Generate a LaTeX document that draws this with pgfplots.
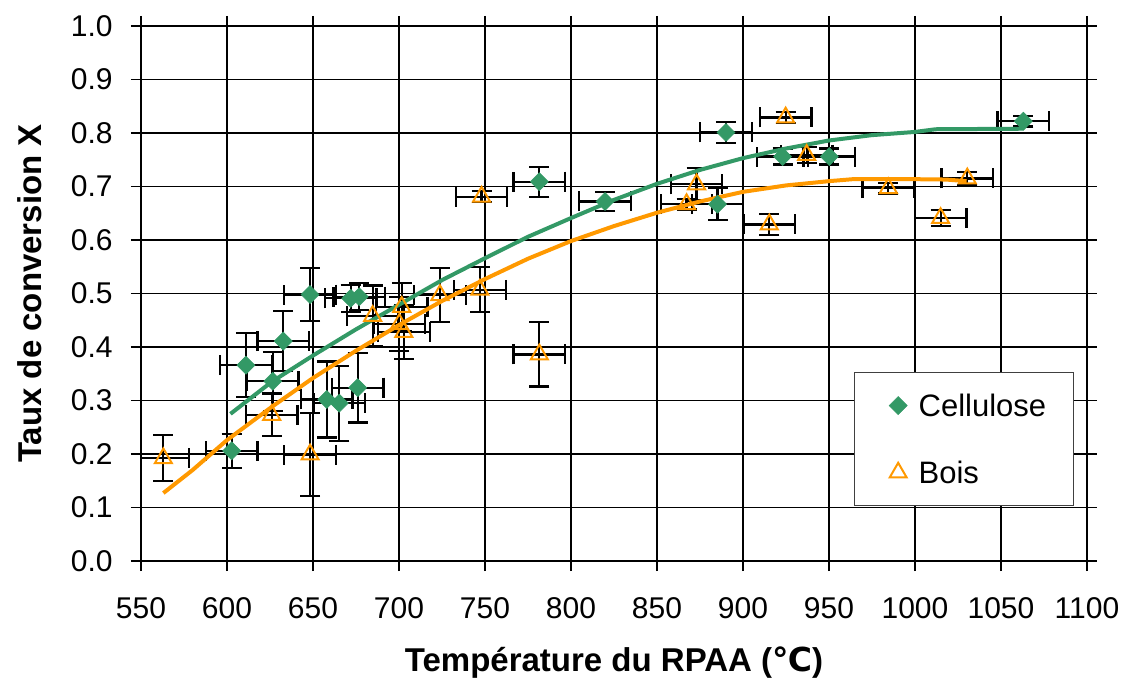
\documentclass[border=0pt]{standalone}
\usepackage{fontspec}
\setmainfont{Liberation Sans}
\newfontfamily\dejavu{DejaVu Sans}
\usepackage{pgfplots}
\usepackage{pgfplotstable}
\pgfplotsset{compat=1.18}
\definecolor{cgreen}{HTML}{339966}
\definecolor{corange}{HTML}{FF9900}

\pgfplotstableread{
x y ex ey
602.7 0.206 15 0.032
611.0 0.366 15 0.060
626.6 0.336 15 0.055
632.7 0.411 15 0.056
648.3 0.498 15 0.050
658.0 0.302 15 0.071
665.3 0.295 15 0.070
671.9 0.491 15 0.025
676.9 0.494 15 0.025
676.0 0.324 15 0.065
781.6 0.709 15 0.028
819.8 0.672 15 0.018
885.2 0.667 15 0.030
890.1 0.801 15 0.019
923.0 0.756 15 0.015
950.2 0.756 15 0.015
1063.0 0.822 15 0.010
}\cellulose

\pgfplotstableread{
x y ex ey
563.0 0.192 15 0.043
626.0 0.273 15 0.040
648.3 0.199 15 0.077
684.7 0.458 15 0.057
701.6 0.475 15 0.045
700.2 0.443 15 0.050
702.8 0.428 15 0.050
723.8 0.497 15 0.050
747.0 0.507 15 0.042
748.0 0.681 15 0.010
781.6 0.386 15 0.060
867.2 0.667 15 0.010
873.0 0.704 15 0.030
915.3 0.629 15 0.020
924.8 0.829 15 0.010
937.0 0.759 15 0.015
984.5 0.697 15 0.010
1014.9 0.641 15 0.015
1030.4 0.715 15 0.012
}\bois

\pgfplotstableread{
x y
602 0.275
626 0.335
650 0.384
675 0.433
700 0.479
725 0.525
750 0.566
775 0.606
800 0.641
825 0.675
850 0.705
875 0.731
900 0.753
925 0.771
950 0.786
975 0.796
1000 0.802
1012 0.807
1063 0.808
}\cellfit

\pgfplotstableread{
x y
563 0.127
580 0.170
600 0.226
626 0.288
650 0.342
675 0.393
700 0.441
725 0.486
750 0.527
775 0.565
800 0.598
825 0.626
850 0.651
875 0.672
900 0.690
925 0.702
950 0.710
965 0.714
991 0.714
1018 0.713
1030 0.710
}\boisfit

\begin{document}
\begin{tikzpicture}
\begin{axis}[
  scale only axis,
  width=473pt, height=267.5pt,
  xmin=550, xmax=1100, ymin=0, ymax=1,
  xtick={550,600,650,700,750,800,850,900,950,1000,1050,1100},
  ytick={0,0.1,0.2,0.3,0.4,0.5,0.6,0.7,0.8,0.9,1.0},
  /pgf/number format/assume math mode=true,
  /pgf/number format/1000 sep={},
  yticklabel style={/pgf/number format/fixed, /pgf/number format/fixed zerofill, /pgf/number format/precision=1, anchor=east, inner sep=0pt, xshift=-9pt},
  xticklabel style={anchor=north, inner sep=0pt, yshift=-13pt},
  ticklabel style={font=\fontsize{15}{18}\selectfont},
  grid=major,
  grid style={black, line width=0.6pt},
  axis line style={black, line width=0.7pt},
  tick align=outside, major tick length=5pt,
  tick style={black, line width=0.6pt},
  xlabel={\textbf{Température du RPAA ({\dejavu\bfseries ℃})}},
  ylabel={\textbf{Taux de conversion X}},
  label style={font=\fontsize{16.5}{20}\selectfont},
  xlabel style={at={(axis description cs:0.5,-0.19)}, anchor=center},
  ylabel style={at={(axis description cs:-0.1173,0.5)}, anchor=center},
  legend style={at={(axis description cs:0.7537,0.3533)}, anchor=north west,
    draw=black!75, line width=0.6pt, fill=white,
    font=\fontsize{15.5}{18}\selectfont,
    inner xsep=13.5pt, inner ysep=11pt, row sep=22.5pt, column sep=5.75pt,
    nodes={inner sep=0pt, text height=11pt, text depth=0pt}},
  legend cell align=left,
  legend image code/.code={\path (-8pt,0pt); \draw[#1, line width=1pt] plot coordinates {(0pt,0pt)};},
  error bars/error bar style={black, line width=1.1pt},
  error bars/error mark options={rotate=90, black, line width=1.1pt, mark size=5pt},
]
\addplot[only marks, mark=diamond*, mark size=4.5pt, color=cgreen,
  mark options={fill=cgreen, draw=cgreen, xscale=1.33, line width=0.3pt},
  error bars/.cd, x dir=both, x explicit, y dir=both, y explicit]
  table[x=x, y=y, x error=ex, y error=ey] {\cellulose};
\addlegendentry{Cellulose}
\addplot[only marks, mark=triangle, mark size=4.9pt, color=corange,
  mark options={draw=corange, fill=none, line width=1pt},
  error bars/.cd, x dir=both, x explicit, y dir=both, y explicit]
  table[x=x, y=y, x error=ex, y error=ey] {\bois};
\addlegendentry{Bois}
\addplot[forget plot, cgreen, line width=2pt, no marks] table[x=x, y=y] {\cellfit};
\addplot[forget plot, corange, line width=2pt, no marks] table[x=x, y=y] {\boisfit};
\end{axis}
\pgfresetboundingbox
\path[use as bounding box] (current axis.south west) ++(-70.5pt,-62.5pt) rectangle ++(565pt,343pt);
\end{tikzpicture}
\end{document}
